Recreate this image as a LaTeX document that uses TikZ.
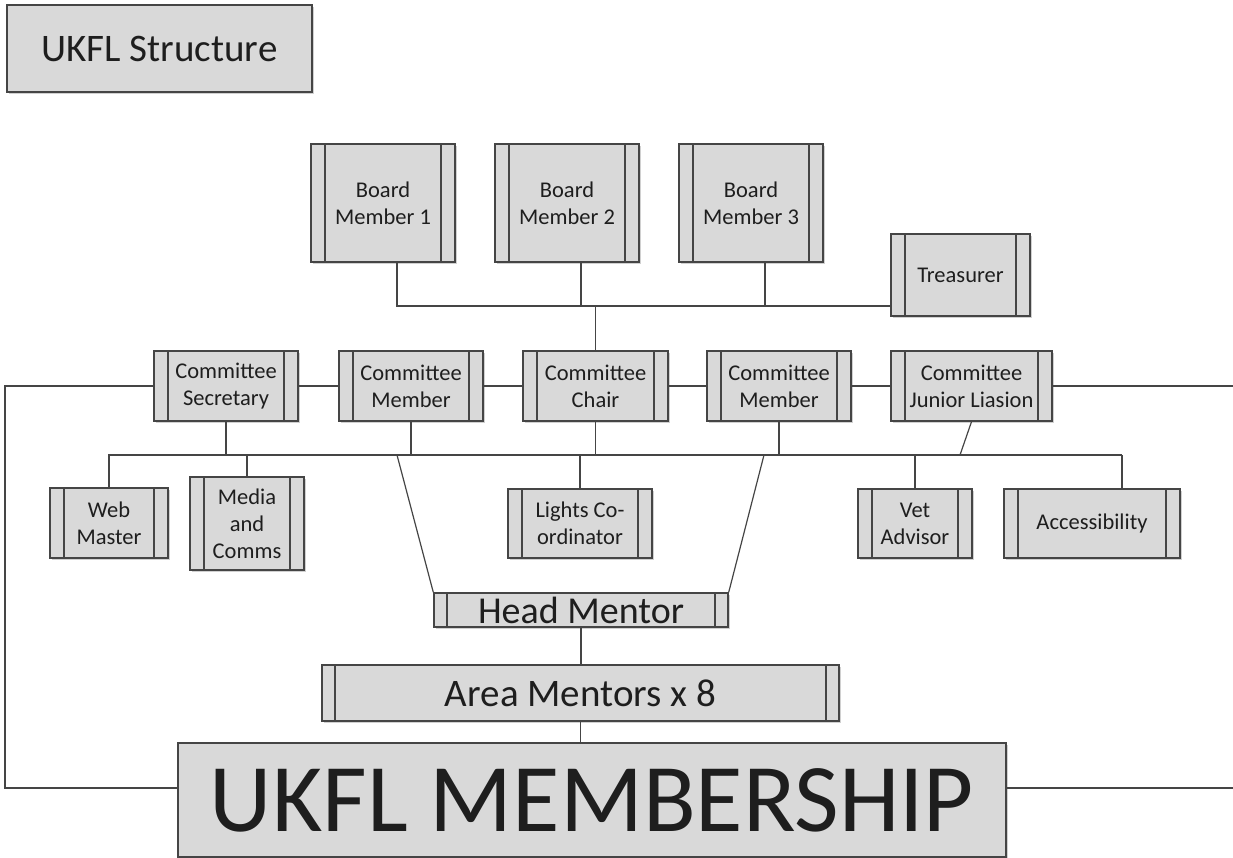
\documentclass[tikz,border=0pt]{standalone}
\usepackage{fontspec}
\setmainfont{Carlito}
\usetikzlibrary{shadows}
\definecolor{boxc}{HTML}{D9D9D9}
\definecolor{bordc}{HTML}{454545}
\definecolor{txtc}{HTML}{1E1E1E}
\tikzset{
  box/.style={draw=bordc, fill=boxc, line width=1.4pt, inner sep=0pt, align=center,
    text=txtc, font=\fontsize{22.5}{27}\selectfont,
    drop shadow={shadow xshift=2pt, shadow yshift=-2pt, opacity=0.3, fill=black!60}},
  proc/.style={box, path picture={
    \draw[bordc, line width=1.2pt]
      ([xshift=#1]path picture bounding box.north west) -- ([xshift=#1]path picture bounding box.south west)
      ([xshift=-#1]path picture bounding box.north east) -- ([xshift=-#1]path picture bounding box.south east);}},
  proc/.default=14pt,
  conn/.style={draw=bordc, line width=1.2pt}
}
\begin{document}
\begin{tikzpicture}[x=1pt,y=-1pt]
\useasboundingbox[fill=white] (0,0) rectangle (1233,858);

% title
\node[box, minimum width=305pt, minimum height=87pt, font=\fontsize{39}{44}\selectfont] (title) at (159.5,48.5) {UKFL Structure};

% board
\node[proc, minimum width=144pt, minimum height=118pt] (bm1) at (383,203) {Board\\Member 1};
\node[proc, minimum width=144pt, minimum height=118pt] (bm2) at (567,203) {Board\\Member 2};
\node[proc, minimum width=144pt, minimum height=118pt] (bm3) at (751,203) {Board\\Member 3};
\node[proc, minimum width=139pt, minimum height=82pt] (treas) at (960.5,275) {Treasurer};

% committee
\node[proc, minimum width=144pt, minimum height=70pt] (sec) at (226,386) {Committee\\Secretary};
\node[proc, minimum width=144pt, minimum height=70pt] (mem1) at (411,386) {Committee\\Member};
\node[proc, minimum width=145pt, minimum height=70pt] (chair) at (595.5,386) {Committee\\Chair};
\node[proc, minimum width=144pt, minimum height=70pt] (mem2) at (779,386) {Committee\\Member};
\node[proc, minimum width=161pt, minimum height=70pt] (jun) at (971.5,386) {Committee\\Junior Liasion};

% helpers
\node[proc, minimum width=118pt, minimum height=70pt] (web) at (109,523) {Web\\Master};
\node[proc, minimum width=114pt, minimum height=93pt] (media) at (247,523.5) {Media\\and\\Comms};
\node[proc, minimum width=144pt, minimum height=69pt] (lights) at (580,523.5) {Lights Co-\\ordinator};
\node[proc, minimum width=114pt, minimum height=69pt] (vet) at (915,523.5) {Vet\\Advisor};
\node[proc, minimum width=176pt, minimum height=69pt] (acc) at (1092,523.5) {Accessibility};

% mentors
\node[proc=13pt, minimum width=294pt, minimum height=34pt, font=\fontsize{38}{40}\selectfont] (hm) at (581,610) {Head Mentor};
\node[proc=13pt, minimum width=517pt, minimum height=56pt, font=\fontsize{39}{44}\selectfont] (am) at (580.5,693) {Area Mentors x 8};
\node[box, minimum width=828pt, minimum height=114pt, font=\fontsize{97}{100}\selectfont] (memb) at (592,800) {UKFL MEMBERSHIP};

% coordinates
\coordinate (bl) at (108,455);
\coordinate (br) at (1122,455);
\coordinate (tl) at (397,455);
\coordinate (tr) at (764,455);
\coordinate (jb) at (960,455);
\coordinate (lc) at (5,788);
\coordinate (rtop) at (1233,386);
\coordinate (rbot) at (1233,788);

% board connectors
\draw[conn] ([xshift=14pt]bm1.south) |- ([yshift=-31pt]treas.west);
\draw[conn] ([xshift=14pt]bm2.south) -- ++(0,44);
\draw[conn] ([xshift=14pt]bm3.south) -- ++(0,44);
\draw[conn] (chair.north) -- ++(0,-45);

% committee links
\draw[conn] (sec.east) -- (mem1.west);
\draw[conn] (mem1.east) -- (chair.west);
\draw[conn] (chair.east) -- (mem2.west);
\draw[conn] (mem2.east) -- (jun.west);
\draw[conn] (jun.east) -- (rtop);
\draw[conn] (sec.west) -| (lc) -- ([yshift=12pt]memb.west);
\draw[conn] ([yshift=12pt]memb.east) -- (rbot);

% lower bus
\draw[conn] (bl) -- (br);
\draw[conn] (sec.south) -- (sec.south |- bl);
\draw[conn] (mem1.south) -- (mem1.south |- bl);
\draw[conn] (chair.south) -- (chair.south |- bl);
\draw[conn] (mem2.south) -- (mem2.south |- bl);
\draw[conn] (jun.south) -- (jb);
\draw[conn] (web.north) -- (web.north |- bl);
\draw[conn] (media.north) -- (media.north |- bl);
\draw[conn] (lights.north) -- (lights.north |- bl);
\draw[conn] (vet.north) -- (vet.north |- bl);
\draw[conn] (br) -- (br |- acc.north);

% mentors
\draw[conn] (tl) -- (hm.north west);
\draw[conn] (tr) -- (hm.north east);
\draw[conn] (hm.south) -- (hm.south |- am.north);
\draw[conn] (am.south) -- (am.south |- memb.north);
\end{tikzpicture}
\end{document}
